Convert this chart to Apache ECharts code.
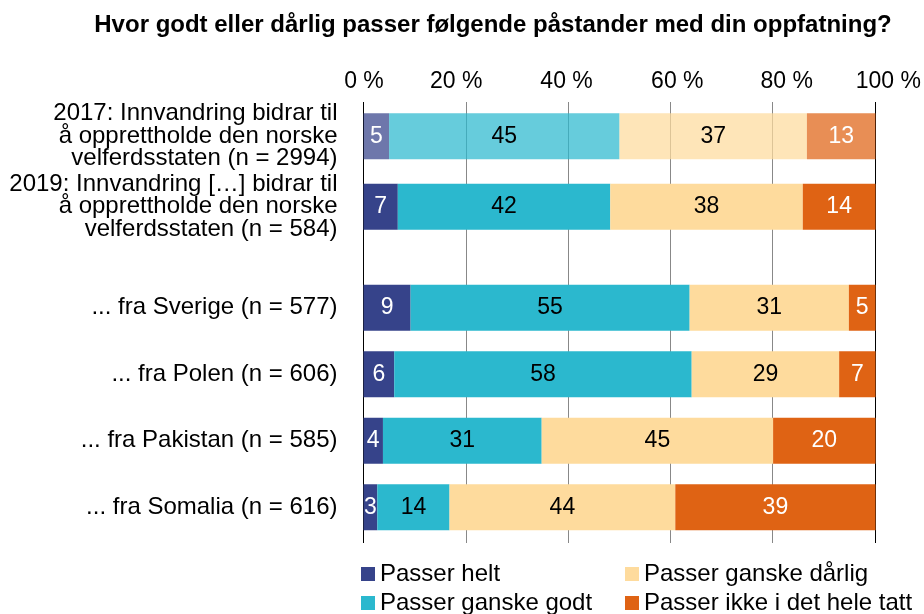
<!DOCTYPE html>
<html>
<head>
<meta charset="utf-8">
<script src="https://cdn.jsdelivr.net/npm/echarts@6/dist/echarts.min.js"></script>
<style>
  html, body { margin: 0; padding: 0; background: #fff; }
  #chart { width: 924px; height: 614px; }
</style>
</head>
<body>
<div id="chart"></div>
<script>
  // rader (topp til bunn)
  const categories = [
    '2017: Innvandring bidrar til\nå opprettholde den norske\nvelferdsstaten (n = 2994)',
    '2019: Innvandring […] bidrar til\nå opprettholde den norske\nvelferdsstaten (n = 584)',
    '... fra Sverige (n = 577)',
    '... fra Polen (n = 606)',
    '... fra Pakistan (n = 585)',
    '... fra Somalia (n = 616)'
  ]
  // prosent, lest av figuren
  const helt   = [5.0, 6.7, 9.2, 6.0, 3.8, 2.7]
  const godt   = [45.0, 41.5, 54.5, 58.1, 31.0, 14.1]
  const darlig = [36.6, 37.6, 31.1, 28.8, 45.2, 44.1]
  const ikke   = [13.4, 14.2, 5.2, 7.1, 20.0, 39.1]
  const xTicks = [0, 20, 40, 60, 80, 100]

  const seriesDefs = [
    { name: 'Passer helt', data: helt, color: '#36438a', label: '#fff' },
    { name: 'Passer ganske godt', data: godt, color: '#2bb8ce', label: '#000' },
    { name: 'Passer ganske dårlig', data: darlig, color: '#fedb9d', label: '#000' },
    { name: 'Passer ikke i det hele tatt', data: ikke, color: '#df6314', label: '#fff' }
  ]

  const font = 'Liberation Sans, Arial, sans-serif'
  let myChart = echarts.init(document.getElementById('chart'))

  let series = []
  seriesDefs.forEach(function (s) {
    const lbl = { show: true, color: s.label, fontSize: 23, fontFamily: font,
      formatter: function (p) { return Math.round(p.value) } }
    // grid 1: 2017 og 2019 (2017 er blekere)
    series.push({
      name: s.name, type: 'bar', stack: 'a', xAxisIndex: 1, yAxisIndex: 1,
      barWidth: 46, itemStyle: { color: s.color }, label: lbl,
      data: s.data.slice(0, 2).map(function (v, i) {
        return i === 0 ? { value: v, itemStyle: { color: echarts.color.modifyAlpha(s.color, 0.72) } } : v
      })
    })
    // grid 2: landene
    series.push({
      name: s.name, type: 'bar', stack: 'b', xAxisIndex: 2, yAxisIndex: 2,
      barWidth: 46, itemStyle: { color: s.color }, label: lbl,
      data: s.data.slice(2)
    })
  })

  const hiddenX = function (i) {
    return { type: 'value', gridIndex: i, min: 0, max: 100, show: false, splitLine: { show: false } }
  }
  const catY = function (i, data) {
    return {
      type: 'category', gridIndex: i, inverse: true, data: data,
      axisLine: { show: false }, axisTick: { show: false },
      axisLabel: { color: '#000', fontSize: 24, fontFamily: font, lineHeight: 22.5, margin: 26, align: 'right' }
    }
  }

  // tick-tekstene i originalen sitter litt skjevt i forhold til linjene
  const tickRich = {
    t0: { padding: [0, 0, 0, 1] },
    t20: { padding: [0, 19, 0, 0] },
    t40: { padding: [0, 3, 0, 0] },
    t60: { padding: [0, 0, 0, 14] },
    t80: { padding: [0, 0, 0, 28] },
    t100: { padding: [0, 0, 0, 27] }
  }

  myChart.setOption({
    animation: false,
    textStyle: { fontFamily: font },
    title: {
      text: 'Hvor godt eller dårlig passer følgende påstander med din oppfatning?',
      left: 488, top: 8, textAlign: 'center',
      textStyle: { fontSize: 24, fontWeight: 'bold', color: '#000', fontFamily: font }
    },
    legend: [
      {
        orient: 'vertical', left: 356, top: 557, height: 60, icon: 'rect', itemWidth: 14, itemHeight: 14, itemGap: 5,
        data: ['Passer helt', 'Passer ganske godt'],
        textStyle: { fontSize: 24, color: '#000', fontFamily: font }
      },
      {
        orient: 'vertical', left: 620, top: 557, height: 60, icon: 'rect', itemWidth: 14, itemHeight: 14, itemGap: 5,
        data: ['Passer ganske dårlig', 'Passer ikke i det hele tatt'],
        textStyle: { fontSize: 24, color: '#000', fontFamily: font }
      }
    ],
    grid: [
      { left: 363.5, right: 48.5, top: 102, height: 441 },
      { left: 363.5, right: 48.5, top: 101, height: 141 },
      { left: 363.5, right: 48.5, top: 274.5, height: 266 }
    ],
    xAxis: [
      {
        type: 'value', gridIndex: 0, position: 'top', min: 0, max: 100, interval: 20,
        axisLine: { show: false }, axisTick: { show: false },
        axisLabel: { color: '#000', fontSize: 23, fontFamily: font, margin: 9,
          formatter: function (v) { return xTicks.indexOf(v) >= 0 ? '{t' + v + '|' + v + ' %}' : '' },
          rich: tickRich },
        splitLine: { show: true, lineStyle: { color: ['#000', '#888', '#888', '#888', '#888', '#000'], width: 1 } }
      },
      hiddenX(1),
      hiddenX(2)
    ],
    yAxis: [
      { type: 'category', gridIndex: 0, show: false, data: [''] },
      catY(1, categories.slice(0, 2)),
      catY(2, categories.slice(2))
    ],
    series: series
  })
</script>
</body>
</html>
